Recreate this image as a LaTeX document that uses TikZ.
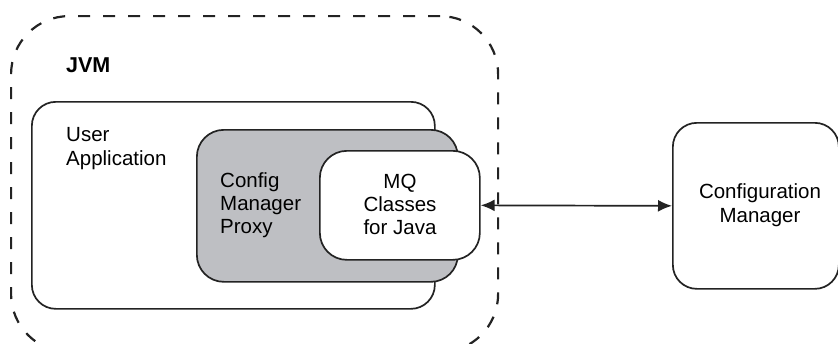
\documentclass[tikz,border=0pt]{standalone}
\usepackage{fontspec}
\setmainfont{Liberation Sans}
\usetikzlibrary{arrows.meta}
\definecolor{proxygray}{RGB}{190,191,195}
\definecolor{linegray}{RGB}{35,35,35}
\tikzset{mytip/.tip={Latex[length=14pt,width=12pt]}}
\begin{document}
\begin{tikzpicture}[x=1pt,y=-1pt,
  jvmbox/.style={draw=linegray, line width=2.2pt, dash pattern=on 12pt off 13pt, rounded corners=58pt, anchor=north west, inner sep=0pt},
  box/.style={draw=linegray, line width=1.7pt, anchor=north west, inner sep=0pt},
  lbl/.style={inner sep=0pt, font=\fontsize{20.5}{23}\selectfont}
]
\clip (0,0) rectangle (838,343);
\node[jvmbox, minimum width=487pt, minimum height=336pt] (jvm) at (10,15) {};
\node[box, fill=white, rounded corners=24pt, minimum width=403pt, minimum height=207pt] (user) at (31,101) {};
\node[box, fill=proxygray, rounded corners=27pt, minimum width=261pt, minimum height=152pt] (proxy) at (196,129) {};
\node[box, fill=white, rounded corners=27pt, minimum width=160pt, minimum height=109pt] (mq) at (319,150) {};
\node[box, fill=white, rounded corners=24pt, minimum width=166pt, minimum height=166pt] (cm) at (672,122) {};
\draw[mytip-mytip, line width=1.7pt, draw=linegray] (mq.east) -- (cm.west);
\node[lbl, anchor=base west, font=\fontsize{21.5}{24}\bfseries\selectfont] (jvmlbl) at (66,72) {JVM};
\node[lbl, anchor=base west, align=left] (userlbl) at (66,165) {User\\[1pt]Application};
\node[lbl, anchor=base west, align=left] (proxylbl) at (220,233) {Config\\Manager\\Proxy};
\node[lbl, anchor=base, align=center] (mqlbl) at (400,234) {MQ\\Classes\\for Java};
\node[lbl, anchor=base, align=center] (cmlbl) at (760,222) {Configuration\\[1pt]Manager};
\end{tikzpicture}
\end{document}
